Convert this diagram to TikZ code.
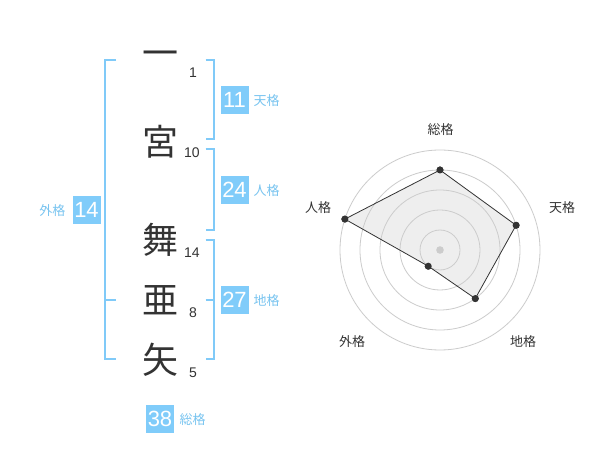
\documentclass[tikz,border=0pt]{standalone}
\usepackage{fontspec}
\setmainfont{Liberation Sans}
\newfontfamily\jp{Noto Sans CJK JP}
\definecolor{boxblue}{RGB}{128,204,250}
\definecolor{brblue}{RGB}{128,202,248}
\definecolor{labblue}{RGB}{120,196,240}
\definecolor{dark}{RGB}{51,51,51}
\definecolor{gridgray}{RGB}{204,204,204}
\definecolor{polyfill}{RGB}{238,238,238}
\begin{document}
\begin{tikzpicture}[x=1pt,y=-1pt,
  kanji/.style={font=\jp\fontsize{36}{36}\selectfont, text=dark, inner sep=0pt},
  strokes/.style={font=\fontsize{14}{14}\selectfont, text=dark, inner sep=0pt},
  valbox/.style={fill=boxblue, text=white, minimum width=28pt, minimum height=28pt, inner sep=0pt, font=\fontsize{22}{22}\selectfont},
  lab/.style={font=\jp\fontsize{13}{13}\selectfont, text=labblue, inner sep=0pt},
  brk/.style={draw=brblue, line width=2pt},
  rlab/.style={font=\jp\fontsize{13}{13}\selectfont, text=dark, inner sep=0pt},
  grid circle/.style={draw=gridgray, line width=0.8pt},
  pt/.style={circle, fill=dark, inner sep=0pt, minimum size=7pt}
]
\useasboundingbox (0,0) rectangle (600,470);
\fill[white] (0,0) rectangle (600,470);

% characters
\node[kanji] (c1) at (160,59) {一};
\node[kanji] (c2) at (160,141.5) {宮};
\node[kanji] (c3) at (160,240) {舞};
\node[kanji] (c4) at (160,300) {亜};
\node[kanji] (c5) at (160,360) {矢};

% stroke counts
\node[strokes] (n1) at (193,73) {1};
\node[strokes] (n2) at (192,153) {10};
\node[strokes] (n3) at (192,253) {14};
\node[strokes] (n4) at (193,313) {8};
\node[strokes] (n5) at (193,373) {5};

% right brackets
\draw[brk] (205.5,60) -- (214.3,60) -- (214.3,139.3) -- (205.5,139.3);
\draw[brk] (205.5,149.3) -- (214.3,149.3) -- (214.3,230) -- (205.5,230);
\draw[brk] (205.5,240) -- (214.3,240) -- (214.3,359.3) -- (205.5,359.3);
\draw[brk] (205.5,300) -- (214.3,300);
% left bracket
\draw[brk] (116,60) -- (105,60) -- (105,359.3) -- (116,359.3);
\draw[brk] (105,300) -- (116,300);

% value boxes
\node[valbox] (ten) at (234.5,100) {11};
\node[lab, anchor=west] (tenl) at (253.5,100.5) {天格};
\node[valbox] (jin) at (234.5,190) {24};
\node[lab, anchor=west] (jinl) at (253.5,190.5) {人格};
\node[valbox] (chi) at (234.5,300) {27};
\node[lab, anchor=west] (chil) at (253.5,300.5) {地格};
\node[valbox] (gai) at (86.5,210) {14};
\node[lab, anchor=east] (gail) at (65.5,210.5) {外格};
\node[valbox] (sou) at (160,419) {38};
\node[lab, anchor=west] (soul) at (179.5,419.5) {総格};

% radar chart
\begin{scope}[shift={(440,250)}, y=1pt]
  \coordinate (rc) at (0,0);
  \node[pt] (p1) at (90:80) {};
  \node[pt] (p2) at (18:80) {};
  \node[pt] (p3) at (-54:60) {};
  \node[pt] (p4) at (-126:20) {};
  \node[pt] (p5) at (162:100) {};
  \fill[polyfill] (p1.center) -- (p2.center) -- (p3.center) -- (p4.center) -- (p5.center) -- cycle;
  \foreach \r in {20,40,60,80,100} \draw[grid circle] (rc) circle[radius=\r pt];
  \fill[gridgray] (rc) circle[radius=3.8pt];
  \draw[dark, line width=0.8pt] (p1.center) -- (p2.center) -- (p3.center) -- (p4.center) -- (p5.center) -- cycle;
  \foreach \p in {p1,p2,p3,p4,p5} \fill[dark] (\p) circle[radius=3.5pt];
\end{scope}
\node[rlab] (lsou) at (440.7,130) {総格};
\node[rlab] (lten) at (562,208) {天格};
\node[rlab] (lchi) at (523,342) {地格};
\node[rlab] (lgai) at (352,342) {外格};
\node[rlab] (ljin) at (318,208) {人格};
\end{tikzpicture}
\end{document}
